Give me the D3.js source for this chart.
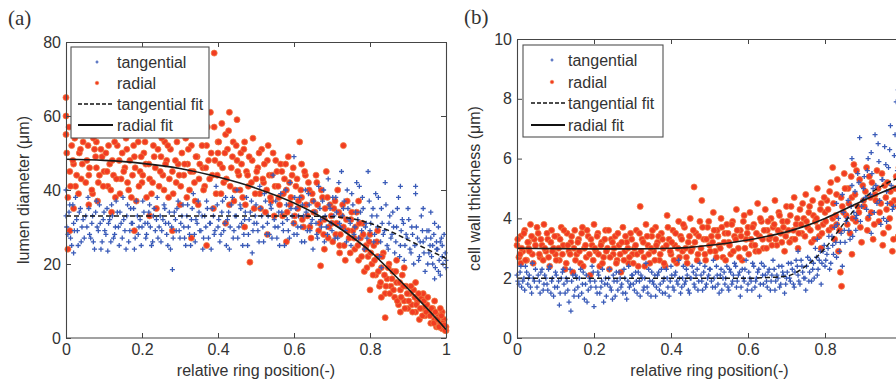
<!DOCTYPE html>
<html><head><meta charset="utf-8">
<script src="https://cdn.jsdelivr.net/npm/d3@7/dist/d3.min.js"></script>
<style>body{margin:0;background:#fff}svg{display:block}text{font-family:"Liberation Sans",Arial,sans-serif;fill:#333}</style>
</head><body><svg id="c" width="896" height="385"></svg>
<script>
// ---------- tick & label data ----------
const xTicks=[0,.2,.4,.6,.8,1];
const xTickLabels=["0","0.2","0.4","0.6","0.8","1"];
const yTicksA=[0,20,40,60,80];
const yTicksB=[0,2,4,6,8,10];
const legendLabels=["tangential","radial","tangential fit","radial fit"];
const panelLabels=["(a)","(b)"];
const xLabel="relative ring position(-)";
const yLabels=["lumen diameter (\u03bcm)","cell wall thickness (\u03bcm)"];

// ---------- panel (a): lumen diameter ----------
const radA=[[0,65],[0,60],[0,55],[.005,24],[.01,45],[.015,52],[.02,47],[.025,41],[.03,56],[.035,50],[.04,43],[.045,53],[.005,38],[.02,35],[.01,29],
[.055,48],[.06,44],[.065,55],[.07,39],[.075,51],[.08,46],[.085,42],[.09,57],[.095,49],[.06,36],[.08,53],[.1,45],
[.105,50],[.11,41],[.115,47],[.12,55],[.125,44],[.13,38],[.135,52],[.14,48],[.145,43],[.15,58],[.12,34],
[.155,46],[.16,51],[.165,40],[.17,56],[.175,44],[.18,49],[.185,37],[.19,53],[.195,45],[.2,42],[.18,29],
[.205,50],[.21,47],[.215,55],[.22,43],[.225,39],[.23,52],[.235,46],[.24,57],[.245,41],[.25,49],[.22,33],
[.255,44],[.26,53],[.265,48],[.27,38],[.275,51],[.28,45],[.285,55],[.29,42],[.295,47],[.3,36],[.28,29],
[.305,50],[.31,44],[.315,54],[.32,47],[.325,40],[.33,52],[.335,45],[.34,37],[.345,49],[.35,43],[.33,27],
[.355,55],[.36,46],[.365,41],[.37,52],[.375,48],[.38,61],[.385,44],[.39,77],[.395,39],[.4,50],[.37,25],[.39,57],[.4,53],
[.405,47],[.41,58],[.415,42],[.42,55],[.425,51],[.43,36],[.435,46],[.44,53],[.445,40],[.45,48],[.42,31],[.43,61],[.45,59],
[.455,44],[.46,50],[.465,38],[.47,53],[.475,45],[.48,41],[.484,20.5],[.49,48],[.495,35],[.5,43],[.47,30],
[.505,46],[.51,39],[.515,51],[.52,42],[.525,34],[.53,48],[.535,44],[.54,37],[.545,50],[.55,41],[.53,28],
[.555,45],[.56,38],[.565,47],[.57,33],[.575,43],[.58,40],[.585,49],[.59,36],[.595,44],[.6,31],[.58,26],
[.605,41],[.61,35],[.615,53],[.62,38],[.625,30],[.63,44],[.635,33],[.64,40],[.645,27],[.65,37],[.62,47],
[.655,34],[.66,42],[.665,29],[.67,19.5],[.675,38],[.68,32],[.685,45],[.69,27],[.695,36],[.7,31],[.68,24],
[.705,35],[.71,28],[.715,40],[.72,25],[.725,33],[.73,30],[.735,21],[.74,37],[.745,27],[.75,32],[.73,52],[.72,23],
[.755,29],[.76,24],[.765,34],[.77,21],[.775,27],[.78,31],[.785,18],[.79,25],[.795,22],[.8,28],[.77,37],[.8,13],
[.805,20],[.81,25],[.815,17],[.82,22],[.825,14],[.83,19],[.835,23],[.84,5.5],[.84,12],[.845,16],[.85,20],[.82,29],[.83,11],
[.855,14],[.86,18],[.865,11],[.87,15],[.875,9],[.88,13],[.885,17],[.89,10],[.895,14],[.9,8],[.87,21],[.88,7],[.89,19],
[.905,12],[.91,9],[.915,13],[.92,7],[.925,10],[.93,5],[.935,11],[.94,8],[.945,6],[.95,9],[.92,15],[.94,12],
[.955,7],[.96,4],[.965,8],[.97,5],[.975,3],[.98,6],[.985,4],[.99,2.5],[.995,5],[1,3],[.97,10],[.99,7],[1,2],[.98,3],
[.002,50],[.008,57],[.012,41],[.018,48],[.023,54],[.028,44],[.033,39],[.038,51],[.043,47],[.048,58],[.052,42],[.058,52],[.062,46],[.068,40],[.072,54],[.078,49],[.083,37],[.088,44],[.092,51],[.098,41],
[.103,56],[.108,45],[.112,52],[.118,40],[.122,48],[.128,53],[.133,43],[.138,57],[.142,39],[.148,50],[.152,45],[.158,54],[.162,42],[.168,48],[.172,38],[.178,52],[.182,46],[.188,55],[.192,41],[.198,49],
[.202,44],[.208,53],[.212,38],[.218,47],[.222,56],[.228,42],[.232,49],[.238,35],[.242,51],[.248,45],[.252,54],[.258,40],[.262,47],[.268,52],[.272,43],[.278,57],[.282,39],[.288,48],[.292,53],[.298,44],
[.302,41],[.308,55],[.312,47],[.318,38],[.322,51],[.328,45],[.332,56],[.338,42],[.342,49],[.348,36],[.352,47],[.358,52],[.362,40],[.368,46],[.372,57],[.378,43],[.382,50],[.388,35],[.392,48],[.398,44],
[.402,53],[.408,39],[.412,46],[.418,50],[.422,43],[.428,56],[.432,41],[.438,49],[.442,37],[.448,52],[.452,45],[.458,40],[.462,47],[.468,51],[.472,36],[.478,44],[.482,49],[.488,42],[.492,54],[.498,39],
[.502,45],[.508,50],[.512,35],[.518,43],[.522,47],[.528,40],[.532,52],[.538,38],[.542,44],[.548,33],[.552,48],[.558,41],[.562,36],[.568,45],[.572,39],[.578,47],[.582,34],[.588,42],[.592,38],[.598,46],
[.602,33],[.608,43],[.612,37],[.618,40],[.622,32],[.628,45],[.632,36],[.638,42],[.642,30],[.648,39],[.652,34],[.658,44],[.662,36],[.668,31],[.672,40],[.678,28],[.682,35],[.688,38],[.692,30],[.698,33],
[.702,26],[.708,37],[.712,31],[.718,34],[.722,28],[.728,36],[.732,25],[.738,32],[.742,29],[.748,23],[.752,34],[.758,27],[.762,30],[.768,25],[.772,31],[.778,22],[.782,28],[.788,24],[.792,19],[.798,26],
[.802,23],[.808,17],[.812,21],[.818,26],[.822,18],[.828,15],[.832,22],[.838,17],[.842,14],[.848,19],[.852,12],[.858,16],[.862,13],[.868,18],[.872,10],[.878,15],[.882,11],[.888,14],[.892,8],[.898,12],
[.902,10],[.908,14],[.912,7],[.918,11],[.922,9],[.928,12],[.932,8],[.938,6],[.942,10],[.948,7],[.952,11],[.958,6],[.962,8],[.968,4],[.972,7],[.978,5],[.982,3],[.988,6],[.992,4],[.998,2],[.985,8],[.995,3.5]];

const tangA=[[0,33],[.005,28],[.01,36],[.015,25],[.02,31],[.025,38],[.03,29],[.035,34],[.04,26],[.045,32],[0,40],[.02,23],
[.055,30],[.06,35],[.065,27],[.07,33],[.075,24],[.08,37],[.085,29],[.09,31],[.095,26],[.1,34],
[.105,28],[.11,23.5],[.115,32],[.12,36],[.125,27],[.13,30],[.135,34],[.14,25],[.145,31],[.15,38],
[.155,29],[.16,33],[.165,26],[.17,35],[.175,31],[.18,24],[.185,37],[.19,28],[.195,32],[.2,30],
[.205,34],[.21,27],[.215,31],[.22,36],[.225,25],[.23,33],[.235,29],[.24,38],[.245,30],[.25,26],
[.255,32],[.26,35],[.265,28],[.27,31],[.275,24],[.28,18.5],[.285,34],[.29,29],[.295,37],[.3,27],
[.305,33],[.31,30],[.315,25],[.32,36],[.325,28],[.33,32],[.335,39],[.34,26],[.345,31],[.35,34],
[.355,29],[.36,24],[.365,33],[.37,37],[.375,27],[.38,31],[.385,35],[.39,28],[.395,41],[.4,30],
[.405,26],[.41,34],[.415,29],[.42,38],[.425,32],[.43,24],[.435,36],[.44,27],[.445,33],[.45,40],
[.455,30],[.46,35],[.465,25],[.47,32],[.475,38],[.48,28],[.485,34],[.49,23],[.495,31],[.5,36],
[.505,29],[.51,41],[.515,33],[.52,26],[.525,37],[.53,31],[.535,28],[.54,35],[.545,44],[.55,30],
[.555,27],[.56,34],[.565,39],[.57,31],[.575,25],[.58,36],[.585,29],[.59,42],[.595,33],[.6,28],[.6,49],
[.605,35],[.61,30],[.615,38],[.62,26],[.625,33],[.63,40],[.635,29],[.64,36],[.645,31],[.65,24],
[.655,34],[.66,28],[.665,41],[.67,32],[.675,37],[.68,26],[.685,30],[.69,43],[.695,35],[.7,29],
[.705,33],[.71,38],[.715,27],[.72,31],[.725,45],[.73,35],[.735,29],[.74,40],[.745,32],[.75,25],
[.755,36],[.76,30],[.765,42],[.77,27],[.775,34],[.78,38],[.785,24],[.79,31],[.795,45],[.8,29],
[.805,33],[.81,26],[.815,39],[.82,30],[.825,22],[.83,35],[.835,28],[.84,42],[.845,25],[.85,31],[.83,19],
[.855,27],[.86,34],[.865,23],[.87,30],[.875,38],[.88,25],[.885,32],[.89,21],[.895,28],[.9,35],[.88,41],
[.905,24],[.91,30],[.915,20],[.92,39],[.925,27],[.93,22],[.935,33],[.94,26],[.945,18],[.95,29],[.92,41],[.94,35],
[.955,23],[.96,27],[.965,20],[.97,31],[.975,24],[.98,18],[.985,26],[.99,22],[.995,28],[1,21],[.97,16],[.99,25],[1,19],[.98,30],[.96,34],
[.002,30],[.008,34],[.012,27],[.018,36],[.022,29],[.028,32],[.032,25],[.038,35],[.042,30],[.048,27],[.052,33],[.058,38],[.062,28],[.068,31],[.072,26],[.078,34],[.082,30],[.088,36],[.092,24],[.098,32],
[.102,29],[.108,35],[.112,31],[.118,26],[.122,33],[.128,28],[.132,37],[.138,30],[.142,34],[.148,27],[.152,32],[.158,24],[.162,36],[.168,29],[.172,31],[.178,35],[.182,27],[.188,33],[.192,30],[.198,25],
[.202,37],[.208,31],[.212,28],[.218,34],[.222,30],[.228,26],[.232,35],[.238,32],[.242,27],[.248,33],[.252,29],[.258,36],[.262,31],[.268,25],[.272,34],[.278,30],[.282,27],[.288,32],[.292,35],[.298,29],
[.302,31],[.308,36],[.312,27],[.318,33],[.322,30],[.328,25],[.332,35],[.338,28],[.342,32],[.348,37],[.352,29],[.358,33],[.362,27],[.368,30],[.372,35],[.378,31],[.382,24],[.388,33],[.392,29],[.398,36],
[.402,32],[.408,28],[.412,37],[.418,31],[.422,25],[.428,34],[.432,30],[.438,38],[.442,29],[.448,33],[.452,27],[.458,36],[.462,31],[.468,28],[.472,34],[.478,25],[.482,32],[.488,37],[.492,29],[.498,33],
[.502,31],[.508,26],[.512,35],[.518,30],[.522,39],[.528,28],[.532,33],[.538,36],[.542,27],[.548,32],[.552,37],[.558,30],[.562,25],[.568,34],[.572,29],[.578,40],[.582,32],[.588,27],[.592,35],[.598,31],
[.602,38],[.608,28],[.612,33],[.618,30],[.622,36],[.628,26],[.632,34],[.638,39],[.642,29],[.648,32],[.652,37],[.658,31],[.662,27],[.668,35],[.672,30],[.678,40],[.682,33],[.688,28],[.692,36],[.698,31],
[.702,38],[.708,27],[.712,34],[.718,42],[.722,30],[.728,33],[.732,37],[.738,26],[.742,35],[.748,31],[.752,39],[.758,28],[.762,34],[.768,32],[.772,41],[.778,29],[.782,35],[.788,30],[.792,27],[.798,37],
[.802,31],[.808,35],[.812,28],[.818,33],[.822,38],[.828,26],[.832,31],[.838,29],[.842,36],[.848,24],[.852,33],[.858,28],[.862,30],[.868,26],[.872,35],[.878,22],[.882,29],[.888,31],[.892,25],[.898,27],
[.902,32],[.908,23],[.912,28],[.918,25],[.922,30],[.928,21],[.932,26],[.938,29],[.942,23],[.948,27],[.952,20],[.958,25],[.962,22],[.968,28],[.972,19],[.978,24],[.982,21],[.988,27],[.992,20],[.998,23],[.975,26],[.985,17],[.965,25],[.955,29]];

const tangFitA=[[0,33],[.1,33],[.2,33],[.3,33],[.4,33],[.5,33],[.6,33],[.65,32.9],[.7,32.8],[.75,32.3],[.8,31],[.85,29],[.9,26.5],[.95,24],[1,21.5]];
const radFitA=[[0,48.3],[.1,48],[.2,47.2],[.3,45.8],[.4,43.5],[.5,40.5],[.6,36.5],[.7,31],[.75,27.5],[.8,23.5],[.85,18.5],[.9,13.3],[.95,8],[1,2.3]];

// ---------- panel (b): cell wall thickness ----------
const radB=[[0,3.1],[.005,2.7],[.01,3.4],[.015,2.9],[.02,3.6],[.025,2.6],[.03,3.2],[.035,3.8],[.04,2.8],[.045,3.3],[.01,2.5],[.03,3.0],
[.055,3.5],[.06,2.7],[.065,3.1],[.07,3.8],[.075,2.9],[.08,3.3],[.085,2.4],[.09,3.6],[.095,3.0],[.1,2.8],
[.105,3.4],[.11,2.6],[.115,3.7],[.12,3.1],[.125,2.3],[.13,3.5],[.135,2.9],[.14,3.2],[.145,2.2],[.15,3.6],
[.155,2.8],[.16,3.3],[.165,2.5],[.17,3.7],[.175,3.0],[.18,2.7],[.185,3.4],[.19,2.1],[.195,3.1],[.2,3.8],
[.205,2.9],[.21,3.5],[.215,2.4],[.22,3.2],[.225,2.7],[.23,3.6],[.235,3.0],[.24,2.3],[.245,3.3],[.25,2.8],
[.255,3.4],[.26,2.6],[.265,3.1],[.27,2.2],[.275,3.7],[.28,2.9],[.285,3.2],[.29,2.5],[.295,3.5],[.3,2.8],
[.305,3.0],[.31,3.6],[.315,2.4],[.32,4.4],[.325,3.3],[.33,2.7],[.335,3.8],[.34,3.1],[.345,2.5],[.35,3.4],
[.355,2.9],[.36,3.7],[.365,3.2],[.37,2.6],[.375,3.5],[.38,3.0],[.385,2.4],[.39,4.1],[.395,3.3],[.4,2.8],
[.405,3.6],[.41,3.1],[.415,2.5],[.42,3.9],[.425,3.4],[.43,2.9],[.435,3.7],[.44,2.7],[.445,3.2],[.45,4.0],
[.455,3.0],[.46,5.05],[.465,3.5],[.47,2.8],[.475,3.9],[.48,4.6],[.485,3.3],[.49,2.6],[.495,3.7],[.5,3.1],
[.505,3.4],[.51,4.2],[.515,2.9],[.52,3.6],[.525,3.1],[.53,4.0],[.535,2.7],[.54,3.5],[.545,3.8],[.55,3.2],
[.555,2.8],[.56,3.9],[.565,3.4],[.57,4.3],[.575,3.0],[.58,3.6],[.585,2.6],[.59,4.1],[.595,3.3],[.6,3.7],
[.605,4.2],[.61,3.1],[.615,3.8],[.62,2.9],[.625,4.5],[.63,3.4],[.635,3.9],[.64,3.0],[.645,4.3],[.65,3.6],
[.655,3.3],[.66,4.0],[.665,3.7],[.67,4.6],[.675,3.1],[.68,4.2],[.685,3.5],[.69,3.9],[.695,2.9],[.7,4.4],
[.705,3.6],[.71,4.1],[.715,3.3],[.72,4.7],[.725,3.8],[.73,3.0],[.735,4.3],[.74,3.5],[.745,4.0],[.75,4.8],
[.755,3.7],[.76,4.4],[.765,3.2],[.77,4.1],[.775,3.9],[.78,5.0],[.785,3.4],[.79,4.5],[.795,3.8],[.8,4.2],[.79,3.0],
[.805,4.6],[.81,3.6],[.815,5.2],[.82,4.0],[.825,3.3],[.83,4.8],[.835,2.9],[.84,2.2],[.843,1.73],[.845,4.4],[.85,5.5],[.83,3.8],[.82,5.7],
[.855,4.1],[.86,5.0],[.865,3.5],[.87,4.7],[.875,5.8],[.88,3.9],[.885,4.4],[.89,5.3],[.895,3.2],[.9,4.6],[.87,2.8],
[.905,4.9],[.91,3.6],[.915,5.4],[.92,4.2],[.925,3.3],[.93,4.8],[.935,5.6],[.94,3.9],[.945,4.5],[.95,3.1],
[.955,5.1],[.96,4.3],[.965,3.7],[.97,4.9],[.975,2.9],[.98,4.6],[.985,5.4],[.99,3.4],[.995,4.1],
[.002,3.3],[.008,2.8],[.012,3.0],[.018,3.5],[.022,2.6],[.028,3.2],[.032,2.9],[.038,3.4],[.042,2.5],[.048,3.1],[.052,3.7],[.058,2.8],[.062,3.3],[.068,2.6],[.072,3.0],[.078,3.5],[.082,2.7],[.088,3.2],[.092,2.9],[.098,3.4],
[.102,2.6],[.108,3.0],[.112,3.3],[.118,2.8],[.122,3.6],[.128,2.5],[.132,3.1],[.138,2.8],[.142,3.4],[.148,3.0],[.152,2.6],[.158,3.2],[.162,2.9],[.168,3.5],[.172,2.4],[.178,3.1],[.182,3.6],[.188,2.8],[.192,3.3],[.198,2.6],
[.202,3.0],[.208,3.4],[.212,2.8],[.218,3.1],[.222,2.5],[.228,3.3],[.232,2.9],[.238,3.6],[.242,2.7],[.248,3.2],[.252,3.0],[.258,2.5],[.262,3.5],[.268,2.8],[.272,3.2],[.278,2.6],[.282,3.4],[.288,3.0],[.292,2.7],[.298,3.3],
[.302,2.5],[.308,3.1],[.312,2.8],[.318,3.5],[.322,2.9],[.328,3.2],[.332,2.4],[.338,3.4],[.342,2.8],[.348,3.0],[.352,3.6],[.358,2.6],[.362,3.1],[.368,3.4],[.372,2.8],[.378,3.3],[.382,2.5],[.388,3.1],[.392,3.7],[.398,2.9],
[.402,3.2],[.408,2.6],[.412,3.5],[.418,3.0],[.422,2.7],[.428,3.3],[.432,3.8],[.438,3.0],[.442,2.5],[.448,3.4],[.452,2.9],[.458,3.6],[.462,3.2],[.468,2.6],[.472,3.4],[.478,3.0],[.482,3.7],[.488,2.8],[.492,3.3],[.498,3.9],
[.502,2.9],[.508,3.2],[.512,3.6],[.518,2.7],[.522,3.4],[.528,3.0],[.532,3.7],[.538,3.2],[.542,2.6],[.548,3.5],[.552,3.1],[.558,3.8],[.562,2.9],[.568,3.3],[.572,3.6],[.578,2.7],[.582,3.4],[.588,3.9],[.592,3.0],[.598,3.5],
[.602,2.8],[.608,3.3],[.612,3.7],[.618,3.1],[.622,3.5],[.628,2.9],[.632,4.0],[.638,3.3],[.642,3.6],[.648,3.0],[.652,3.9],[.658,3.4],[.662,3.1],[.668,3.8],[.672,3.3],[.678,3.6],[.682,4.1],[.688,3.2],[.692,3.7],[.698,3.4],
[.702,3.9],[.708,3.2],[.712,4.4],[.718,3.6],[.722,3.3],[.728,4.0],[.732,3.5],[.738,3.8],[.742,4.5],[.748,3.4],[.752,3.9],[.758,4.2],[.762,3.6],[.768,4.6],[.772,3.3],[.778,4.0],[.782,3.7],[.788,4.3],[.792,3.5],[.798,4.7],
[.802,3.9],[.808,4.3],[.812,4.9],[.818,3.7],[.822,4.5],[.828,4.1],[.832,5.3],[.838,3.6],[.842,4.7],[.848,4.2],[.852,5.0],[.858,3.8],[.862,4.5],[.868,5.4],[.872,4.0],[.878,4.8],[.882,5.6],[.888,4.2],[.892,3.7],[.898,5.1],
[.902,4.4],[.908,5.7],[.912,4.0],[.918,4.7],[.922,5.2],[.928,3.8],[.932,4.6],[.938,5.0],[.942,4.2],[.948,5.5],[.952,3.5],[.958,4.7],[.962,5.2],[.968,4.0],[.972,4.5],[.978,3.3],[.982,5.0],[.988,4.4],[.992,5.7],[.998,3.8]];

const tangB=[[0,2.1],[.005,1.8],[.01,2.4],[.015,1.9],[.02,1.6],[.025,2.2],[.03,2.0],[.035,1.7],[.04,2.5],[.045,1.9],
[.055,2.1],[.06,1.5],[.065,2.3],[.07,1.8],[.075,2.0],[.08,1.6],[.085,2.4],[.09,1.9],[.095,1.4],[.1,2.2],
[.105,1.7],[.11,1.1],[.115,2.0],[.12,2.3],[.125,1.5],[.13,1.9],[.135,1.2],[.14,0.9],[.145,2.1],[.15,1.6],
[.155,2.0],[.16,1.4],[.165,2.3],[.17,1.8],[.175,1.3],[.18,2.1],[.185,1.6],[.19,1.9],[.195,2.4],[.2,1.05],
[.205,1.7],[.21,2.2],[.215,1.5],[.22,1.9],[.225,1.2],[.23,2.0],[.235,1.8],[.24,2.3],[.245,1.6],[.25,2.1],
[.255,1.4],[.26,1.9],[.265,2.2],[.27,1.7],[.275,1.5],[.28,2.0],[.285,1.3],[.29,2.4],[.295,1.8],[.3,2.1],
[.305,1.6],[.31,1.9],[.315,2.2],[.32,1.4],[.325,2.0],[.33,1.7],[.335,2.5],[.34,1.5],[.345,1.9],[.35,2.2],
[.355,1.8],[.36,1.4],[.365,2.1],[.37,1.6],[.375,2.3],[.38,1.9],[.385,1.5],[.39,2.0],[.395,1.4],[.4,2.4],
[.405,1.7],[.41,2.1],[.415,1.9],[.42,2.6],[.425,1.5],[.43,2.0],[.435,1.8],[.44,2.3],[.445,1.6],[.45,2.0],
[.455,2.4],[.46,1.8],[.465,2.1],[.47,1.6],[.475,2.5],[.48,1.9],[.485,2.2],[.49,1.7],[.495,2.0],[.5,2.3],
[.505,1.9],[.51,2.6],[.515,1.7],[.52,2.1],[.525,1.5],[.53,2.3],[.535,2.0],[.54,1.8],[.545,2.4],[.55,1.6],
[.555,2.2],[.56,1.9],[.565,2.5],[.57,1.7],[.575,2.1],[.58,1.4],[.585,2.3],[.59,1.9],[.595,2.6],[.6,1.8],
[.605,2.0],[.61,1.6],[.615,2.4],[.62,1.9],[.625,2.2],[.63,1.4],[.635,2.5],[.64,1.8],[.645,2.1],[.65,1.7],
[.655,2.3],[.66,1.9],[.665,2.6],[.67,1.6],[.675,2.1],[.68,2.4],[.685,1.8],[.69,2.2],[.695,1.5],[.7,2.0],
[.705,2.5],[.71,1.9],[.715,2.3],[.72,1.7],[.725,2.6],[.73,2.1],[.735,1.8],[.74,2.4],[.745,2.0],[.75,1.6],[.73,2.9],
[.755,2.7],[.76,2.2],[.765,1.9],[.77,2.5],[.775,3.0],[.78,2.1],[.785,2.6],[.79,1.8],[.795,2.9],[.8,2.4],[.78,3.3],
[.805,2.8],[.81,3.4],[.815,2.5],[.82,3.1],[.825,3.7],[.83,2.7],[.835,4.0],[.84,3.2],[.845,2.4],[.85,3.6],[.83,4.5],[.845,4.8],
[.855,3.9],[.86,4.6],[.865,3.3],[.87,5.1],[.875,4.2],[.88,3.6],[.885,5.5],[.89,6.7],[.895,4.4],[.9,5.0],[.88,4.0],[.87,6.0],
[.905,4.7],[.91,5.6],[.915,4.1],[.92,6.2],[.925,5.0],[.93,6.8],[.935,4.5],[.94,5.9],[.945,3.8],[.95,5.3],[.92,3.5],
[.955,6.4],[.96,4.9],[.965,5.7],[.97,7.1],[.975,4.3],[.98,6.1],[.985,7.9],[.99,8.3],[.995,5.4],[.96,3.9],
[.002,1.9],[.008,2.2],[.012,1.7],[.018,2.0],[.022,2.4],[.028,1.8],[.032,2.1],[.038,1.5],[.042,2.0],[.048,2.3],[.052,1.7],[.058,1.9],[.062,2.2],[.068,1.6],[.072,2.1],[.078,1.8],[.082,2.3],[.088,1.5],[.092,2.0],[.098,1.7],
[.102,2.1],[.108,1.9],[.112,1.5],[.118,2.2],[.122,1.8],[.128,2.0],[.132,1.6],[.138,2.3],[.142,1.9],[.148,1.4],[.152,2.1],[.158,1.7],[.162,2.0],[.168,1.5],[.172,2.2],[.178,1.8],[.182,1.2],[.188,2.0],[.192,1.7],[.198,2.2],
[.202,1.9],[.208,1.5],[.212,2.1],[.218,1.7],[.222,2.3],[.228,1.8],[.232,1.4],[.238,2.0],[.242,1.7],[.248,1.3],[.252,1.9],[.258,2.2],[.262,1.6],[.268,2.0],[.272,1.8],[.278,2.3],[.282,1.5],[.288,1.9],[.292,1.7],[.298,2.1],
[.302,1.8],[.308,2.2],[.312,1.5],[.318,1.9],[.322,2.1],[.328,1.6],[.332,2.0],[.338,1.7],[.342,2.3],[.348,1.4],[.352,1.9],[.358,2.1],[.362,1.7],[.368,2.2],[.372,1.8],[.378,1.5],[.382,2.0],[.388,2.3],[.392,1.7],[.398,1.9],
[.402,2.1],[.408,1.6],[.412,2.2],[.418,1.8],[.422,2.0],[.428,1.7],[.432,2.4],[.438,1.9],[.442,2.1],[.448,1.5],[.452,2.0],[.458,2.2],[.462,1.7],[.468,2.3],[.472,1.9],[.478,2.1],[.482,1.6],[.488,2.4],[.492,1.8],[.498,2.1],
[.502,2.3],[.508,1.7],[.512,2.0],[.518,2.4],[.522,1.8],[.528,2.1],[.532,1.6],[.538,2.2],[.542,2.0],[.548,1.7],[.552,2.3],[.558,1.8],[.562,2.1],[.568,2.4],[.572,1.9],[.578,2.2],[.582,1.7],[.588,2.0],[.592,2.3],[.598,1.6],
[.602,2.2],[.608,1.9],[.612,2.5],[.618,1.7],[.622,2.0],[.628,2.3],[.632,1.8],[.638,2.1],[.642,2.4],[.648,1.9],[.652,2.2],[.658,1.6],[.662,2.1],[.668,2.3],[.672,1.9],[.678,2.0],[.682,1.7],[.688,2.4],[.692,2.1],[.698,1.8],
[.702,2.2],[.708,2.0],[.712,2.5],[.718,1.8],[.722,2.2],[.728,2.4],[.732,1.9],[.738,2.6],[.742,2.2],[.748,2.0],[.752,2.4],[.758,1.9],[.762,2.6],[.768,2.3],[.772,2.0],[.778,2.7],[.782,2.3],[.788,2.9],[.792,2.5],[.798,3.1],
[.802,2.6],[.808,3.0],[.812,2.3],[.818,3.4],[.822,2.8],[.828,3.2],[.832,3.8],[.838,2.9],[.842,3.5],[.848,4.2],[.852,3.2],[.858,4.0],[.862,3.6],[.868,4.4],[.872,3.4],[.878,4.9],[.882,4.1],[.888,5.2],[.892,3.9],[.898,4.6],
[.902,5.4],[.908,4.3],[.912,6.0],[.918,4.8],[.922,5.5],[.928,4.2],[.932,5.1],[.938,6.5],[.942,4.6],[.948,5.3],[.952,4.0],[.958,5.8],[.962,4.5],[.968,6.3],[.972,5.1],[.978,4.4],[.982,6.8],[.988,5.6],[.992,7.5],[.998,4.8]];

const tangFitB=[[0,2.0],[.1,2.0],[.2,2.0],[.3,2.0],[.4,2.0],[.5,2.0],[.6,2.0],[.65,2.02],[.7,2.07],[.75,2.4],[.8,3.0],[.85,3.85],[.9,4.65],[.95,5.1],[1,5.4]];
const radFitB=[[0,3.0],[.1,2.99],[.2,2.98],[.3,2.98],[.4,3.0],[.45,3.03],[.5,3.1],[.55,3.18],[.6,3.28],[.65,3.4],[.7,3.55],[.75,3.75],[.8,4.0],[.85,4.3],[.9,4.6],[.95,4.88],[1,5.15]];

// ---------- styles ----------
const RED="#f23c22", RED_EDGE="#f07a40", BLUE="#3a5bb8", AX="#454545";
const W=896;

const svg=d3.select("#c");

function drawPanel(cfg){
  const x=d3.scaleLinear().domain([0,1]).range([cfg.l,cfg.r]);
  const y=d3.scaleLinear().domain([0,cfg.yMax]).range([cfg.b,cfg.t]);
  const g=svg.append("g");

  // radial points
  g.append("g").selectAll("circle").data(cfg.rad).join("circle")
    .attr("cx",d=>x(d[0])).attr("cy",d=>y(d[1])).attr("r",3)
    .attr("fill",RED).attr("stroke",RED_EDGE).attr("stroke-width",0.8);
  // tangential points (+)
  g.append("g").selectAll("path").data(cfg.tang).join("path")
    .attr("d",d=>{const px=x(d[0]),py=y(d[1]);return `M${px-2.5},${py}H${px+2.5}M${px},${py-2.5}V${py+2.5}`;})
    .attr("stroke",BLUE).attr("stroke-width",1.3).attr("fill","none");

  // fits
  const line=d3.line().x(d=>x(d[0])).y(d=>y(d[1])).curve(d3.curveMonotoneX);
  g.append("path").datum(cfg.tangFit).attr("d",line).attr("fill","none")
    .attr("stroke","#1a1a1a").attr("stroke-width",1.5).attr("stroke-dasharray","5,3");
  g.append("path").datum(cfg.radFit).attr("d",line).attr("fill","none")
    .attr("stroke","#1a1a1a").attr("stroke-width",1.6);

  // axes
  const style=a=>{a.selectAll(".domain").attr("stroke",AX).attr("stroke-width",1.1);
    a.selectAll(".tick line").attr("stroke",AX);
    a.selectAll("text").attr("fill","#3a3a3a").style("font-size","16px").style("font-family",'"Liberation Sans",Arial,sans-serif');};
  const shownX=xTicks.filter(v=>x(v)<=W-4);
  g.append("g").attr("transform",`translate(0,${cfg.b})`)
    .call(d3.axisBottom(x).tickValues(shownX).tickSize(-5).tickSizeOuter(0).tickPadding(6).tickFormat(d=>xTickLabels[xTicks.indexOf(d)])).call(style)
    .call(a=>a.select(".domain").attr("d",`M${cfg.l},0H${cfg.r}`));
  g.append("g").attr("transform",`translate(0,${cfg.t})`)
    .call(d3.axisTop(x).tickValues(xTicks).tickSize(-5).tickSizeOuter(0).tickFormat("")).call(style);
  g.append("g").attr("transform",`translate(${cfg.l},0)`)
    .call(d3.axisLeft(y).tickValues(cfg.yTicks).tickSize(-5).tickSizeOuter(0).tickPadding(5).tickFormat(d3.format("d"))).call(style);
  g.append("g").attr("transform",`translate(${cfg.r},0)`)
    .call(d3.axisRight(y).tickValues(cfg.yTicks).tickSize(-5).tickSizeOuter(0).tickFormat("")).call(style);

  // axis labels
  g.append("text").attr("x",(cfg.l+cfg.r)/2).attr("y",cfg.b+38).attr("text-anchor","middle")
    .style("font-size","16px").text(xLabel);
  g.append("text").attr("transform",`translate(${cfg.yl},${(cfg.t+cfg.b)/2}) rotate(-90)`)
    .attr("text-anchor","middle").style("font-size","16px").text(cfg.yLabel);
  g.append("text").attr("x",cfg.pl[0]).attr("y",cfg.pl[1])
    .style("font-family",'"Liberation Serif","Times New Roman",serif').style("font-size","21px").attr("fill","#222").text(cfg.panelLabel);

  // legend
  const L=cfg.leg;
  const lg=g.append("g");
  lg.append("rect").attr("x",L.x).attr("y",L.y).attr("width",L.w).attr("height",L.h)
    .attr("fill","#fff").attr("stroke","#505050").attr("stroke-width",1.1);
  legendLabels.forEach((lab,i)=>{
    const yy=L.rows[i];
    if(i===0) lg.append("path").attr("d",`M${L.mx-1.5},${yy}H${L.mx+1.5}M${L.mx},${yy-1.5}V${yy+1.5}`).attr("stroke",BLUE).attr("stroke-width",1.2);
    if(i===1) lg.append("circle").attr("cx",L.mx).attr("cy",yy).attr("r",1.8).attr("fill",RED).attr("stroke",RED_EDGE).attr("stroke-width",0.5);
    if(i===2) lg.append("line").attr("x1",L.lx1).attr("x2",L.lx2).attr("y1",yy).attr("y2",yy).attr("stroke","#111").attr("stroke-width",1.6).attr("stroke-dasharray","4,2");
    if(i===3) lg.append("line").attr("x1",L.lx1).attr("x2",L.lx2).attr("y1",yy).attr("y2",yy).attr("stroke","#111").attr("stroke-width",2);
    lg.append("text").attr("x",L.tx).attr("y",yy).attr("dy","0.35em").style("font-size","16px").text(lab);
  });
}

drawPanel({l:66,r:446,t:42,b:338,yMax:80,yTicks:yTicksA,rad:radA,tang:tangA,tangFit:tangFitA,radFit:radFitA,
  yLabel:yLabels[0],yl:29,panelLabel:panelLabels[0],pl:[8,25],
  leg:{x:71,y:47,w:138,h:91,mx:97,lx1:78,lx2:113,tx:117,rows:[62,83,104,125]}});
drawPanel({l:517,r:902,t:39,b:338,yMax:10,yTicks:yTicksB,rad:radB,tang:tangB,tangFit:tangFitB,radFit:radFitB,
  yLabel:yLabels[1],yl:480,panelLabel:panelLabels[1],pl:[464,24],
  leg:{x:523,y:45,w:140,h:92,mx:552,lx1:531,lx2:565,tx:568,rows:[60,82,103,125]}});
</script></body></html>
